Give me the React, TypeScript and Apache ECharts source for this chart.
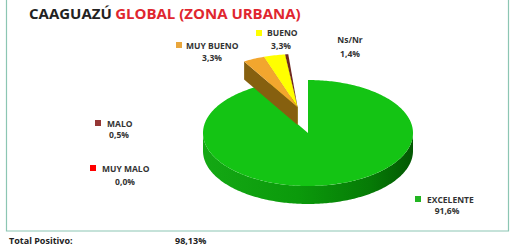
import React, { useEffect, useRef } from 'react';
import * as echarts from 'echarts';

const titleBlack = 'CAAGUAZÚ';
const titleRed = 'GLOBAL (ZONA URBANA)';
const categories = ['EXCELENTE', 'MUY BUENO', 'BUENO', 'MALO', 'MUY MALO', 'Ns/Nr'];
const values = [91.6, 3.3, 3.3, 0.5, 0.0, 1.4];
const topColors: (string | null)[] = ['#14c414', '#f2a62e', '#ffff00', '#6e2820', '#ff0000', null];
const wallColors: (string | null)[] = ['#0a9a0a', '#86600f', '#b8b800', '#3e120d', '#990000', null];
const markerColors: (string | null)[] = ['#22b522', '#e9a63c', '#ffff00', '#953735', '#ff0000', null];
const exploded = [false, true, true, true, true, false];
const totalLabel = 'Total Positivo:';
const totalPositivo = 98.13;

// layout
const CX = 308, CY = 133, RX = 105, RY = 53, DEPTH = 18;
const EXPLODE: [number, number] = [-0.1, -0.49];
const labelLayout = [
  { mx: 415, my: 196, nx: 427, ny: 199, vx: 447, vy: 210 },
  { mx: 176, my: 42, nx: 186, ny: 45, vx: 212, vy: 57 },
  { mx: 256, my: 30, nx: 267, ny: 32, vx: 281, vy: 45 },
  { mx: 95, my: 120, nx: 107, ny: 123, vx: 119, vy: 134 },
  { mx: 90, my: 165, nx: 102, ny: 168, vx: 125, vy: 181 },
  { mx: -1, my: -1, nx: 350, ny: 39, vx: 350, vy: 53, center: true },
];
const drawOrder = [0, 5, 4, 3, 2, 1];

const total = values.reduce((a, b) => a + b, 0);
const starts: number[] = [];
{
  let acc = 0;
  values.forEach((v) => {
    starts.push((acc / total) * Math.PI * 2);
    acc += v;
  });
}

const fmt = (v: number, d: number) => v.toFixed(d).replace('.', ',') + '%';

export default function App() {
  const ref = useRef<HTMLDivElement>(null);
  useEffect(() => {
    if (!ref.current) return;
    const chart = echarts.init(ref.current, undefined, { renderer: 'svg' });
    const font = '"Open Sans", sans-serif';

    const renderItem = (params: any, api: any) => {
      const v = api.value(0);
      const i = api.value(1);
      if (!(v > 0) || !topColors[i]) return { type: 'group', children: [] };
      const a0 = starts[i];
      const a1 = a0 + (v / total) * Math.PI * 2;
      const [ox, oy] = exploded[i] ? EXPLODE : [0, 0];
      const P = (r: number, a: number, h: number) => [
        CX + RX * (ox + r * Math.sin(a)),
        CY + RY * (oy - r * Math.cos(a)) + h,
      ];
      const arc = (b0: number, b1: number, h: number) => {
        const n = Math.max(2, Math.ceil(Math.abs(b1 - b0) / (Math.PI / 180)));
        const pts: number[][] = [];
        for (let k = 0; k <= n; k++) pts.push(P(1, b0 + ((b1 - b0) * k) / n, h));
        return pts;
      };
      const children: any[] = [];
      const b0 = Math.max(a0, Math.PI / 2);
      const b1 = Math.min(a1, Math.PI * 1.5);
      if (b1 > b0) {
        const pts = arc(b0, b1, 0).concat(arc(b1, b0, DEPTH));
        const fill =
          i === 0
            ? {
                type: 'linear', x: CX - RX, y: 0, x2: CX + RX, y2: 0, global: true,
                colorStops: [
                  { offset: 0, color: '#14a814' },
                  { offset: 0.45, color: '#0b9a0b' },
                  { offset: 0.8, color: '#067a06' },
                  { offset: 1, color: '#035803' },
                ],
              }
            : wallColors[i];
        children.push({ type: 'polygon', shape: { points: pts }, style: { fill } });
      }
      const c0 = P(0, 0, 0);
      const c1 = P(0, 0, DEPTH);
      if (Math.sin(a0) < -0.01) {
        const e0 = P(1, a0, 0), e1 = P(1, a0, DEPTH);
        children.push({ type: 'polygon', shape: { points: [c0, e0, e1, c1] }, style: { fill: wallColors[i] } });
      }
      if (Math.sin(a1) > 0.01) {
        const e0 = P(1, a1, 0), e1 = P(1, a1, DEPTH);
        children.push({ type: 'polygon', shape: { points: [c0, e0, e1, c1] }, style: { fill: wallColors[i] } });
      }
      children.push({
        type: 'polygon',
        shape: { points: [c0].concat(arc(a0, a1, 0)) },
        style: { fill: topColors[i] },
      });
      return { type: 'group', children };
    };

    const graphic: any[] = [
      {
        type: 'rect',
        shape: { x: 6.5, y: -5, width: 502, height: 236 },
        style: { fill: 'none', stroke: '#8cc6b3', lineWidth: 1.2 },
        z: 0,
      },
      {
        type: 'text',
        x: 29,
        y: 13,
        style: {
          text: `{a|${titleBlack}} {b|${titleRed}}`,
          verticalAlign: 'middle',
          rich: {
            a: { fill: '#222222', fontSize: 15, fontWeight: 'bold', fontFamily: font },
            b: { fill: '#e0262f', fontSize: 15, fontWeight: 'bold', fontFamily: font },
          },
        },
      },
      {
        type: 'text',
        x: 9,
        y: 244.5,
        style: { text: totalLabel, fill: '#222222', fontSize: 9, fontWeight: 'bold', fontFamily: font, verticalAlign: 'bottom' },
      },
      {
        type: 'text',
        x: 175,
        y: 244.5,
        style: { text: fmt(totalPositivo, 2), fill: '#222222', fontSize: 9, fontWeight: 'bold', fontFamily: font, verticalAlign: 'bottom' },
      },
    ];
    categories.forEach((name, i) => {
      const L: any = labelLayout[i];
      if (markerColors[i]) {
        graphic.push({ type: 'rect', shape: { x: L.mx, y: L.my, width: 6, height: 6 }, style: { fill: markerColors[i] } });
      }
      graphic.push({
        type: 'text',
        x: L.nx,
        y: L.ny,
        style: {
          text: name,
          fill: '#333333',
          fontSize: 8.5,
          fontWeight: 'bold',
          fontFamily: font,
          align: L.center ? 'center' : 'left',
          verticalAlign: 'middle',
        },
      });
      graphic.push({
        type: 'text',
        x: L.vx,
        y: L.vy,
        style: {
          text: fmt(values[i], 1),
          fill: '#333333',
          fontSize: 8.5,
          fontWeight: 'bold',
          fontFamily: font,
          align: 'center',
          verticalAlign: 'middle',
        },
      });
    });

    chart.setOption({
      animation: false,
      series: [
        {
          type: 'custom',
          coordinateSystem: 'none',
          silent: true,
          renderItem,
          data: drawOrder.map((i) => [values[i], i]),
        },
      ],
      graphic,
    });
    return () => chart.dispose();
  }, []);
  return <div ref={ref} style={{ position: 'fixed', left: 0, top: 0, width: 520, height: 245, background: '#ffffff' }} />;
}
